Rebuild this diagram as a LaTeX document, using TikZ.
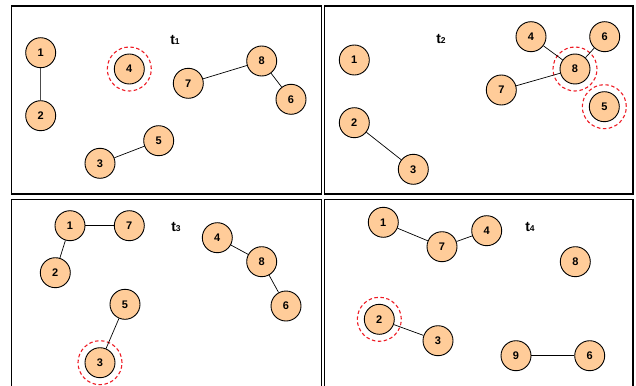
\documentclass[tikz,border=0pt]{standalone}
\usepackage{fontspec}
\setmainfont{Liberation Sans}
\definecolor{nodefill}{HTML}{FFCC99}
\definecolor{ringred}{HTML}{EE1C25}
\tikzset{
  vert/.style={circle,draw=black,line width=0.9pt,fill=nodefill,minimum size=30pt,inner sep=0pt,font=\fontsize{11}{11}\selectfont\bfseries},
  ring/.style={circle,draw=ringred,dashed,dash pattern=on 3.5pt off 2.5pt,line width=1.1pt,minimum size=44pt,inner sep=0pt},
  panel/.style={draw=black,line width=1.4pt},
  edge/.style={draw=black,line width=0.7pt},
  tlabel/.style={inner sep=0pt,font=\bfseries}
}
\newcommand{\tlab}[1]{{\fontsize{14}{14}\selectfont t}{\fontsize{8.5}{8.5}\selectfont #1}}
\begin{document}
\begin{tikzpicture}[x=1pt,y=-1pt]
\useasboundingbox (0,0) rectangle (636,385);
\begin{scope}
\clip (0,0) rectangle (636,385);
\draw[panel] (11.7,6) rectangle (321.3,194);
\draw[panel] (324.5,6) rectangle (633,194);
\draw[panel] (11.7,199.5) rectangle (321.3,400);
\draw[panel] (324.5,199.5) rectangle (633,400);
\end{scope}
% panel t1
\node[tlabel] (ta) at (175,40) {\tlab{1}};
\node[vert] (a1) at (40.7,52.7) {1};
\node[vert] (a2) at (40.7,115.7) {2};
\node[vert] (a4) at (129.3,69) {4};
\node[ring] (ra4) at (a4) {};
\node[vert] (a7) at (188.3,83.3) {7};
\node[vert] (a8) at (261.7,61) {8};
\node[vert] (a6) at (291,99.3) {6};
\node[vert] (a5) at (158.7,140.7) {5};
\node[vert] (a3) at (100,163.3) {3};
\draw[draw=black!70,line width=1.2pt] (a1) -- (a2);
\draw[edge] (a7) -- (a8);
\draw[edge] (a8) -- (a6);
\draw[edge] (a3) -- (a5);
% panel t2
\node[tlabel] (tb) at (441,39) {\tlab{2}};
\node[vert] (b1) at (354.3,60) {1};
\node[vert] (b2) at (354.3,122.7) {2};
\node[vert] (b3) at (413.3,169.3) {3};
\node[vert] (b4) at (531,36.7) {4};
\node[vert] (b6) at (604.7,36.7) {6};
\node[vert] (b8) at (575,69) {8};
\node[ring] (rb8) at (b8) {};
\node[vert] (b7) at (501.3,90) {7};
\node[vert] (b5) at (604.3,106.7) {5};
\node[ring] (rb5) at (b5) {};
\draw[edge] (b2) -- (b3);
\draw[edge] (b4) -- (b8);
\draw[edge] (b6) -- (b8);
\draw[edge] (b7) -- (b8);
% panel t3
\node[tlabel] (tc) at (176,227) {\tlab{3}};
\node[vert] (c1) at (70,225.7) {1};
\node[vert] (c7) at (129.3,225.7) {7};
\node[vert] (c2) at (55.3,272.7) {2};
\node[vert] (c4) at (217.3,237.7) {4};
\node[vert] (c8) at (261.7,261.7) {8};
\node[vert] (c6) at (286,306) {6};
\node[vert] (c5) at (125,304.3) {5};
\node[vert] (c3) at (100,362.7) {3};
\node[ring] (rc3) at (c3) {};
\draw[edge] (c1) -- (c7);
\draw[edge] (c1) -- (c2);
\draw[edge] (c4) -- (c8);
\draw[edge] (c8) -- (c6);
\draw[edge] (c5) -- (c3);
% panel t4
\node[tlabel] (td) at (530,227) {\tlab{4}};
\node[vert] (d1) at (383.3,222.3) {1};
\node[vert] (d7) at (442,246.7) {7};
\node[vert] (d4) at (486.7,230.7) {4};
\node[vert] (d8) at (575.3,261.7) {8};
\node[vert] (d2) at (379.3,319.3) {2};
\node[ring] (rd2) at (d2) {};
\node[vert] (d3) at (438,340.7) {3};
\node[vert] (d9) at (516,355.7) {9};
\node[vert] (d6) at (589.7,355.7) {6};
\draw[edge] (d1) -- (d7);
\draw[edge] (d7) -- (d4);
\draw[edge] (d2) -- (d3);
\draw[edge] (d9) -- (d6);
\end{tikzpicture}
\end{document}
